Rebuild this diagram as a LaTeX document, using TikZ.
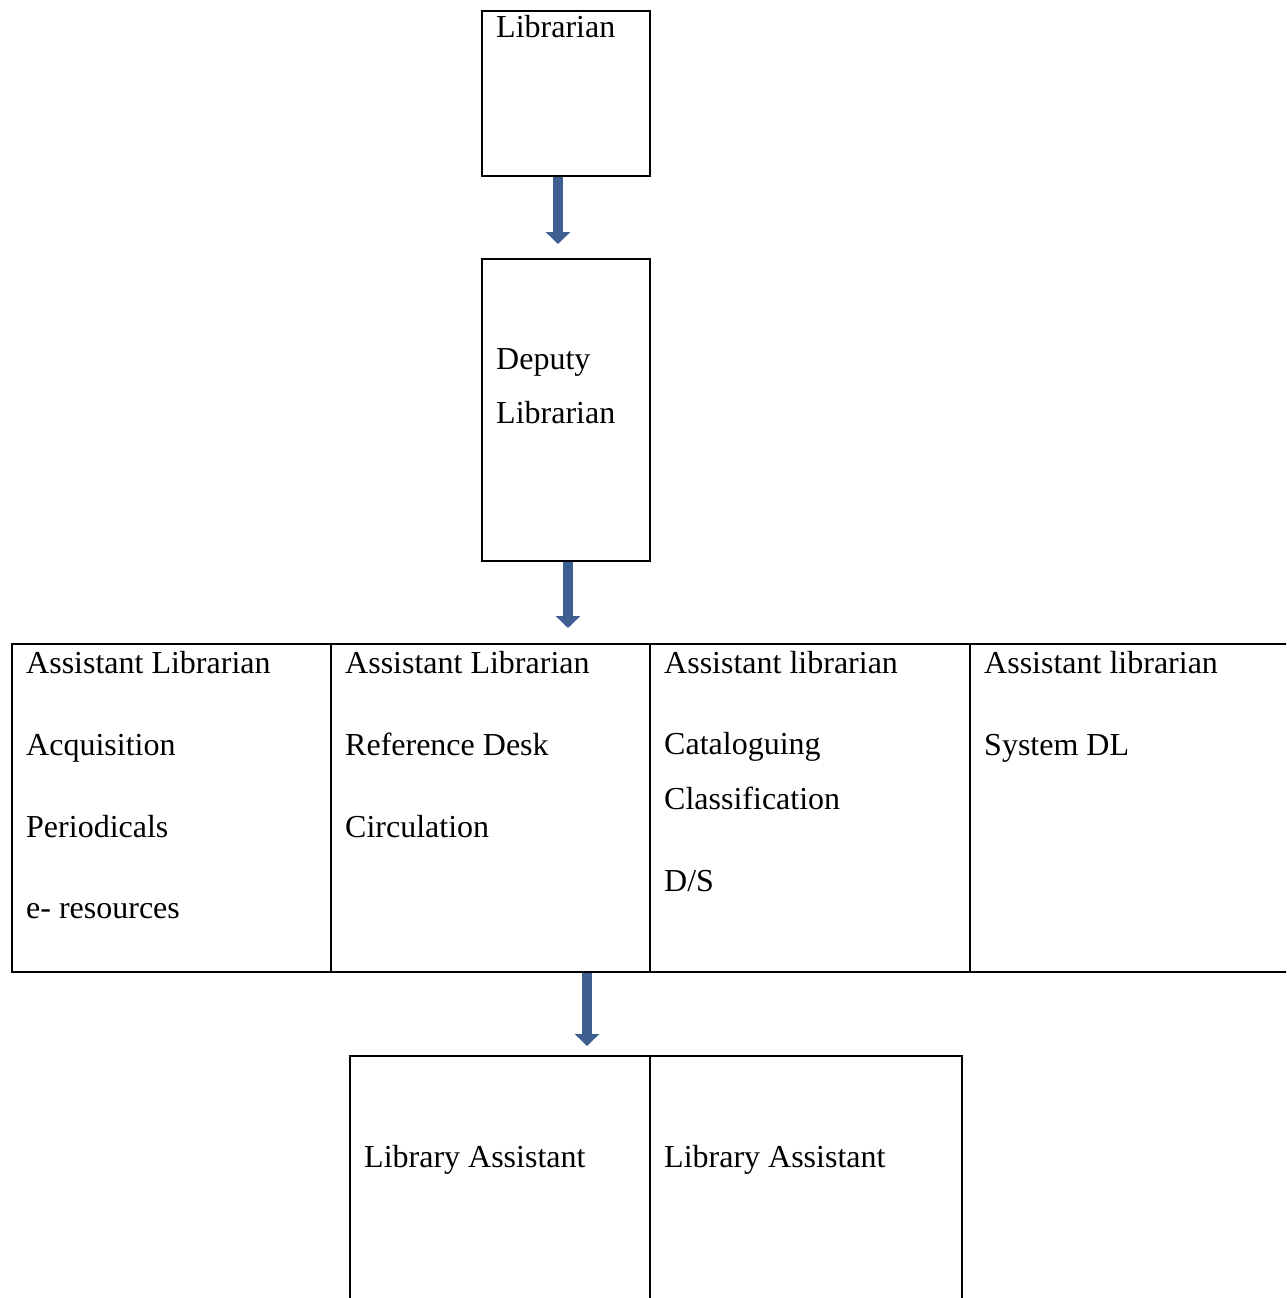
\documentclass[tikz,border=0pt]{standalone}
\usepackage{fontspec}
\setmainfont{Liberation Serif}
\usetikzlibrary{arrows.meta}
\definecolor{arrowblue}{RGB}{61,96,145}
\tikzset{
	box/.style={draw, line width=2pt, inner sep=0pt, anchor=north west},
	lbl/.style={anchor=base west, inner sep=0pt, font=\fontsize{32}{38}\selectfont},
	downarrow/.style={draw=arrowblue, line width=10pt, -{Triangle[width=24pt,length=12pt]}}
}
\begin{document}
\begin{tikzpicture}[x=1pt, y=-1pt]
		\useasboundingbox (0, 0) rectangle (1286, 1298);
		\clip (0, 0) rectangle (1286, 1298);
		% top of the chart
		\node[box, minimum width=168pt, minimum height=165pt] (lib) at (481, 10) {};
		\node[box, minimum width=168pt, minimum height=302pt] (dep) at (481, 258) {};
		\node[lbl] (libtxt) at (496, 38) {Librarian};
		\node[lbl] (deptxt) at (496, 369) {Deputy};
		\node[lbl] (deptxtb) at (496, 423) {Librarian};
		% assistant librarians
		\node[box, minimum width=319pt, minimum height=328pt] (al1) at (11, 643) {};
		\node[box, minimum width=319pt, minimum height=328pt] (al2) at (330, 643) {};
		\node[box, minimum width=320pt, minimum height=328pt] (al3) at (649, 643) {};
		\node[box, minimum width=340pt, minimum height=328pt] (al4) at (969, 643) {};
		\node[lbl] (al1a) at (26, 673) {Assistant Librarian};
		\node[lbl] (al1b) at (26, 755) {Acquisition};
		\node[lbl] (al1c) at (26, 837) {Periodicals};
		\node[lbl] (al1d) at (26, 918) {e- resources};
		\node[lbl] (al2a) at (345, 673) {Assistant Librarian};
		\node[lbl] (al2b) at (345, 755) {Reference Desk};
		\node[lbl] (al2c) at (345, 837) {Circulation};
		\node[lbl] (al3a) at (664, 673) {Assistant librarian};
		\node[lbl] (al3b) at (664, 754) {Cataloguing};
		\node[lbl] (al3c) at (664, 809) {Classification};
		\node[lbl] (al3d) at (664, 891) {D/S};
		\node[lbl] (al4a) at (984, 673) {Assistant librarian};
		\node[lbl] (al4b) at (984, 755) {System DL};
		% library assistants
		\node[box, minimum width=300pt, minimum height=300pt] (la1) at (349, 1055) {};
		\node[box, minimum width=312pt, minimum height=300pt] (la2) at (649, 1055) {};
		\node[lbl] (la1txt) at (364, 1167) {Library Assistant};
		\node[lbl] (la2txt) at (664, 1167) {Library Assistant};
		% arrows
		\draw[downarrow, shorten >=14pt] ([xshift=-8pt]lib.south) -- ([xshift=-8pt]dep.north);
		\draw[downarrow, shorten >=15pt] ([xshift=2pt]dep.south) -- ([xshift=2pt]dep.south |- al2.north);
		\draw[downarrow, shorten >=9pt] ([xshift=-64pt]al2.south east) -- ([xshift=-64pt]la1.north east);
	\end{tikzpicture}
\end{document}
